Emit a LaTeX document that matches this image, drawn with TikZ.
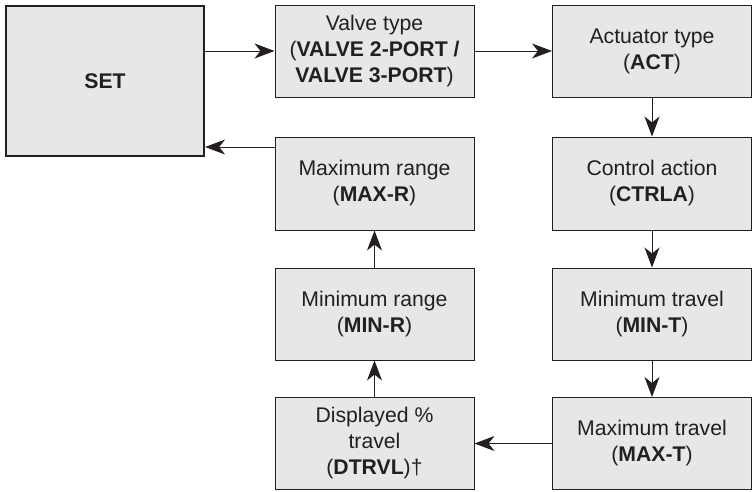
\documentclass[tikz,border=0pt]{standalone}
\usepackage{fontspec}
\setmainfont{Liberation Sans}
\usetikzlibrary{arrows.meta}
\definecolor{boxfill}{HTML}{E6E7E8}
\definecolor{ink}{HTML}{231F20}
\begin{document}
\begin{tikzpicture}[x=1pt,y=-1pt,
  stepbox/.style={draw=ink, fill=boxfill, line width=1pt, minimum width=199pt, minimum height=92pt,
    inner sep=0pt, align=center, text=ink, font=\fontsize{21.2}{26}\selectfont},
  setbox/.style={stepbox, line width=2.2pt, minimum width=198pt, minimum height=150pt},
  arr/.style={draw=ink, line width=1pt, -{Stealth[length=20pt, width=15pt, inset=6pt]}}]
\useasboundingbox (0,0) rectangle (753,491);
\node[setbox] (set) at (105,81) {\textbf{SET}};
\node[stepbox] (valve) at (374.5,51) {Valve type\\(\textbf{VALVE 2-PORT /}\\\textbf{VALVE 3-PORT})};
\node[stepbox] (act) at (652,51) {Actuator type\\(\textbf{ACT})};
\node[stepbox, minimum height=93pt] (maxr) at (374.5,183.5) {Maximum range\\(\textbf{MAX-R})};
\node[stepbox, minimum height=93pt] (ctrl) at (652,183.5) {Control action\\(\textbf{CTRLA})};
\node[stepbox] (minr) at (374.5,314) {Minimum range\\(\textbf{MIN-R})};
\node[stepbox] (mint) at (652,314) {Minimum travel\\(\textbf{MIN-T})};
\node[stepbox] (disp) at (374.5,443.5) {Displayed \%\\travel\\(\textbf{DTRVL})†};
\node[stepbox] (maxt) at (652,443.5) {Maximum travel\\(\textbf{MAX-T})};
\coordinate (m) at ([yshift=36.5pt]maxr.west);
\draw[arr] (set.east |- valve.west) -- (valve.west);
\draw[arr] (valve.east) -- (act.west);
\draw[arr] (act.south) -- (ctrl.north);
\draw[arr] (ctrl.south) -- (mint.north);
\draw[arr] (mint.south) -- (maxt.north);
\draw[arr] (maxt.west) -- (disp.east);
\draw[arr] (disp.north) -- (minr.south);
\draw[arr] (minr.north) -- (maxr.south);
\draw[arr] (m) -- (m -| set.east);
\end{tikzpicture}
\end{document}
